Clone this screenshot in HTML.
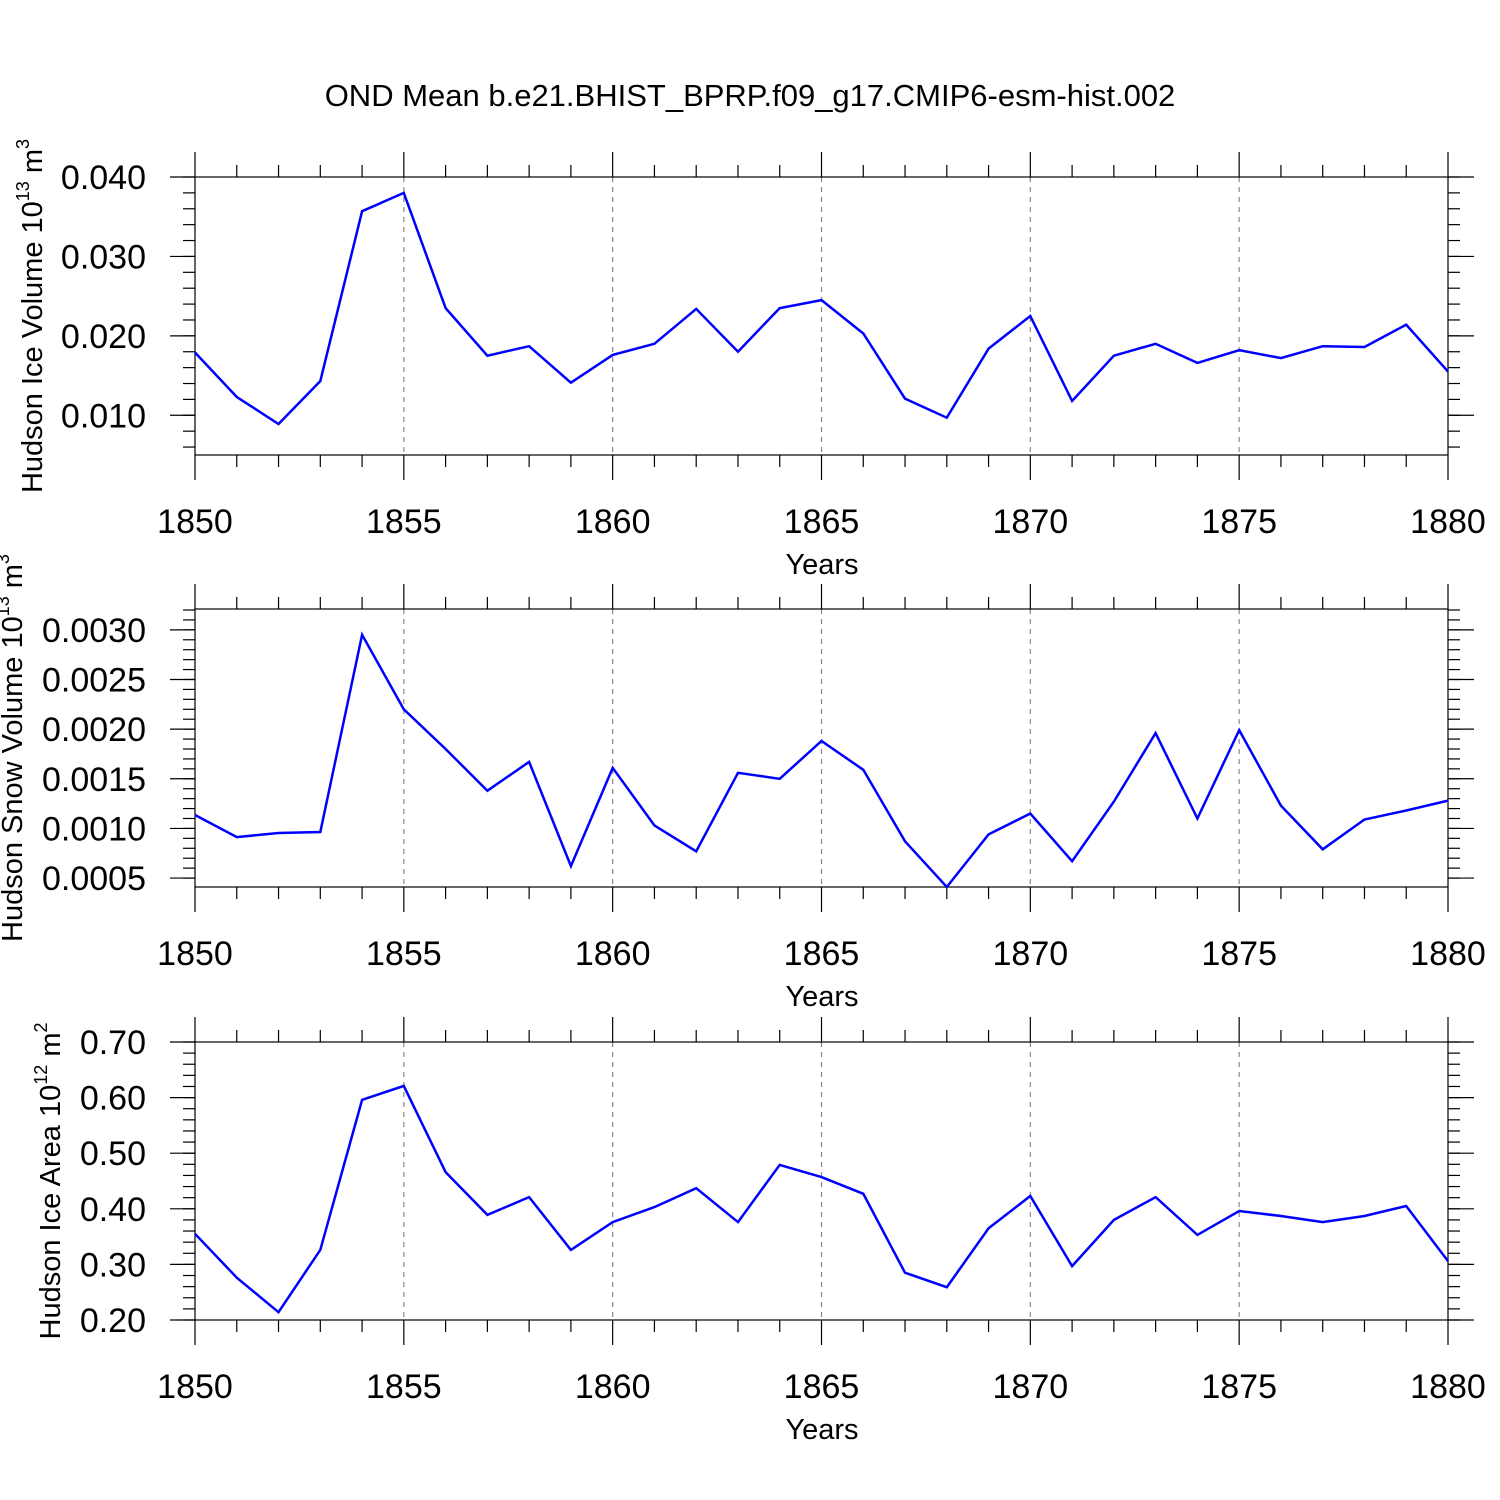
<!DOCTYPE html>
<html><head><meta charset="utf-8"><style>
body{margin:0;background:#fff}
svg{display:block;font-family:"Liberation Sans",sans-serif}
</style></head><body>
<svg id="chart" width="1500" height="1500" viewBox="0 0 1500 1500" xmlns="http://www.w3.org/2000/svg">
<rect width="1500" height="1500" fill="#fff"/>
<text x="750" y="106" font-size="31" text-anchor="middle">OND Mean b.e21.BHIST_BPRP.f09_g17.CMIP6-esm-hist.002</text>
</svg>
<script>
const years=[];for(let y=1850;y<=1880;y++)years.push(y);
const iceVolume=[0.0179,0.0123,0.0089,0.0143,0.0357,0.0380,0.0235,0.0175,0.0187,0.0141,0.0176,0.0190,0.0234,0.0180,0.0235,0.0245,0.0203,0.0121,0.0097,0.0184,0.0225,0.0118,0.0175,0.0190,0.0166,0.0182,0.0172,0.0187,0.0186,0.0214,0.0155];
const snowVolume=[0.001135,0.000913,0.000954,0.000964,0.00295,0.00220,0.00180,0.00138,0.00167,0.00062,0.00161,0.00103,0.00077,0.00156,0.00150,0.00188,0.00159,0.00087,0.00041,0.00094,0.00115,0.00067,0.00127,0.00196,0.00110,0.00199,0.00123,0.00079,0.00109,0.00118,0.00128];
const iceArea=[0.355,0.276,0.214,0.326,0.596,0.621,0.466,0.389,0.421,0.326,0.376,0.403,0.437,0.376,0.479,0.457,0.427,0.285,0.259,0.365,0.423,0.297,0.380,0.421,0.353,0.396,0.387,0.376,0.387,0.405,0.306];
const xTickLabels=["1850","1855","1860","1865","1870","1875","1880"];
const yTicks1=["0.010","0.020","0.030","0.040"];
const yTicks2=["0.0005","0.0010","0.0015","0.0020","0.0025","0.0030"];
const yTicks3=["0.20","0.30","0.40","0.50","0.60","0.70"];

const NS="http://www.w3.org/2000/svg";
const svg=document.getElementById('chart');
function mk(tag,attrs,parent){const e=document.createElementNS(NS,tag);for(const k in attrs)e.setAttribute(k,attrs[k]);(parent||svg).appendChild(e);return e;}

const X0=195,X1=1448;
const xs=y=>X0+(y-1850)/30*(X1-X0);

function panel(idx,top,bot,ymin,ymax,minorStep,yTicks,data,titleMain,sup,unit,titleX){
  const g=mk('g',{});
  
  
  const ys=v=>bot-(v-ymin)/(ymax-ymin)*(bot-top);
  xTickLabels.forEach(t=>{const yr=+t;if(yr>1850&&yr<1880){const l=mk('line',{x1:xs(yr),x2:xs(yr),y1:top,y2:bot,stroke:'#888','stroke-width':1.2,'stroke-dasharray':'5,5'},g);
    }});
  const ax=mk('g',{stroke:'#000','stroke-width':1.2},g);
  
  mk('rect',{x:X0,y:top,width:X1-X0,height:bot-top,fill:'none'},ax);
  years.forEach(yr=>{const major=(yr%5===0);const len=major?25:12;const x=xs(yr);
    mk('line',{x1:x,x2:x,y1:top,y2:top-len},ax);mk('line',{x1:x,x2:x,y1:bot,y2:bot+len},ax);});
  const n0=Math.ceil(ymin/minorStep-1e-6),n1=Math.floor(ymax/minorStep+1e-6);
  for(let n=n0;n<=n1;n++){const y=ys(n*minorStep);mk('line',{x1:X0,x2:X0-12,y1:y,y2:y},ax);mk('line',{x1:X1,x2:X1+12,y1:y,y2:y},ax);}
  yTicks.forEach(t=>{const y=ys(+t);mk('line',{x1:X0,x2:X0-25,y1:y,y2:y},ax);mk('line',{x1:X1,x2:X1+26,y1:y,y2:y},ax);
    const tx=mk('text',{x:146,y:y+12,'font-size':34,'text-anchor':'end'},g);tx.textContent=t;
    });
  xTickLabels.forEach(t=>{const tx=mk('text',{x:xs(+t),y:bot+78,'font-size':34,'text-anchor':'middle'},g);tx.textContent=t;
    });
  const xt=mk('text',{x:822,y:bot+119,'font-size':29,'text-anchor':'middle'},g);xt.textContent='Years';
  
  const cy=(top+bot)/2;
  const yt=mk('text',{transform:`translate(${titleX},${cy}) rotate(-90)`,'font-size':29,'text-anchor':'middle'},g);
  
  const s1=mk('tspan',{},yt);s1.textContent=titleMain;
  const s2=mk('tspan',{dy:-13,'font-size':18},yt);s2.textContent=sup;
  const s3=mk('tspan',{dy:13},yt);s3.textContent=' m';
  const s4=mk('tspan',{dy:-13,'font-size':18},yt);s4.textContent=unit;
  const pts=years.map((yr,i)=>xs(yr).toFixed(1)+','+ys(data[i]).toFixed(1)).join(' ');
  const pl=mk('polyline',{points:pts,fill:'none',stroke:'#0000ff','stroke-width':2.5,'stroke-linejoin':'miter'},g);
  
}
panel(1,177,455,0.005,0.040,0.002,yTicks1,iceVolume,'Hudson Ice Volume 10','13','3',42);
panel(2,609,887,0.00041,0.00321,0.0001,yTicks2,snowVolume,'Hudson Snow Volume 10','13','3',22);
panel(3,1042,1320,0.20,0.70,0.02,yTicks3,iceArea,'Hudson Ice Area 10','12','2',60);
</script>
</body></html>
